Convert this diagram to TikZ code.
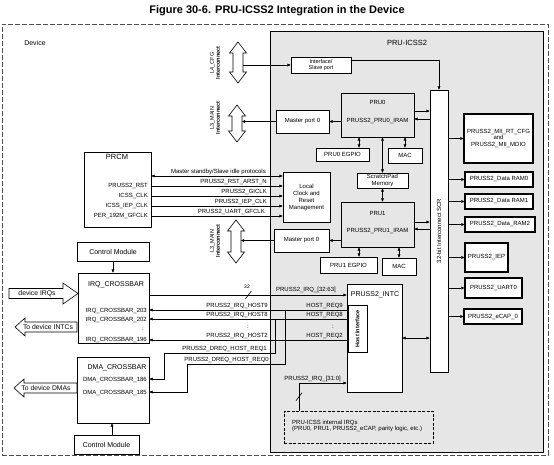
\documentclass[tikz,border=0pt]{standalone}
\usepackage{fontspec}
\setmainfont{Liberation Sans}
\usetikzlibrary{arrows.meta,calc}
\definecolor{bggray}{RGB}{230,230,230}
\newcommand\myfs[2]{\fontsize{#1}{#2}\selectfont}
\begin{document}
\begin{tikzpicture}[x=1pt,y=-1pt,font=\myfs{6}{7},
 >={Triangle[length=3.2pt,width=2.8pt]},
 box/.style={draw,line width=0.7pt,fill=white,inner sep=0pt,align=center},
 pbox/.style={box,line width=1.1pt},
 gbox/.style={box,fill=bggray},
 lbl/.style={inner sep=0pt,align=center},
 rl/.style={inner sep=0pt,anchor=base east},
 conn/.style={line width=0.6pt},
 fat/.style={draw,fill=white,line width=0.6pt,line join=miter}]
\useasboundingbox (0,0) rectangle (554,465);
\tikzset{every path/.append style={}}

% title and frames
\node[lbl,font=\bfseries\myfs{11}{12}] (title) at (277,11) {Figure 30-6. PRU-ICSS2 Integration in the Device};
\node[draw=black!70,dash pattern=on 5pt off 2pt,line width=0.7pt,minimum width=546pt,minimum height=431pt,inner sep=0pt] (device) at (275,239.5) {};
\node[lbl,font=\myfs{7}{8}] (devicelbl) at (35,43) {Device};
\node[draw,fill=bggray,line width=0.8pt,minimum width=273pt,minimum height=421pt,inner sep=0pt] (icss) at (406.5,241.5) {};
\node[lbl,font=\myfs{7.5}{9}] (icsslbl) at (407,43) {PRU-ICSS2};

% interconnect double arrows
\draw[fat] (238,42) -- ++(8.5,11) -- ++(-3.5,0) -- ++(0,19) -- ++(3.5,0) -- ++(-8.5,11) -- ++(-8.5,-11) -- ++(3.5,0) -- ++(0,-19) -- ++(-3.5,0) -- cycle;
\coordinate (l4) at (243,65);
\node[lbl,rotate=90,font=\myfs{5.5}{6}] (l4lbl) at (215,63) {L4\_CFG\\\textbf{Interconnect}};
\draw[fat] (237,105) -- ++(8.5,11) -- ++(-3.5,0) -- ++(0,15) -- ++(3.5,0) -- ++(-8.5,11) -- ++(-8.5,-11) -- ++(3.5,0) -- ++(0,-15) -- ++(-3.5,0) -- cycle;
\coordinate (l3a) at (242,121.5);
\node[lbl,rotate=90,font=\myfs{5.5}{6}] (l3albl) at (215,118) {L3\_MAIN\\\textbf{Interconnect}};
\draw[fat] (236,220) -- ++(8.5,11) -- ++(-3.5,0) -- ++(0,21) -- ++(3.5,0) -- ++(-8.5,11) -- ++(-8.5,-11) -- ++(3.5,0) -- ++(0,-21) -- ++(-3.5,0) -- cycle;
\coordinate (l3b) at (241,240.5);
\node[lbl,rotate=90,font=\myfs{5.5}{6}] (l3blbl) at (215,241) {L3\_MAIN\\\textbf{Interconnect}};

% PRU-ICSS2 internals
\node[box,minimum width=60pt,minimum height=16pt,font=\myfs{5.5}{6.5}] (iface) at (321,65) {Interface/\\Slave port};
\node[box,minimum width=18pt,minimum height=282pt] (scr) at (439,231) {};
\node[lbl,rotate=90] (scrlbl) at (439,231) {32-bit Interconnect SCR};

\node[gbox,minimum width=73pt,minimum height=44pt] (pru0) at (377.5,115) {};
\node[lbl] (pru0a) at (377.5,102) {PRU0};
\node[lbl] (pru0b) at (377.5,121) {PRUSS2\_PRU0\_IRAM};
\node[box,minimum width=53pt,minimum height=23pt] (mp0) at (302.5,121.5) {Master port 0};
\node[box,minimum width=53pt,minimum height=13pt] (egpio0) at (342.5,154.5) {PRU0 EGPIO};
\node[box,minimum width=34pt,minimum height=15pt] (mac0) at (405,155.5) {MAC};
\node[box,minimum width=51pt,minimum height=15pt,font=\myfs{6}{6.5}] (spad) at (382.5,180.5) {ScratchPad\\Memory};
\node[box,minimum width=47pt,minimum height=50pt,font=\myfs{6}{7}] (lcrm) at (306.5,197) {Local\\Clock and\\Reset\\Management};

\node[gbox,minimum width=73pt,minimum height=45pt] (pru1) at (377.5,224.5) {};
\node[lbl] (pru1a) at (377.5,213) {PRU1};
\node[lbl] (pru1b) at (377.5,231) {PRUSS2\_PRU1\_IRAM};
\node[box,minimum width=55pt,minimum height=23pt] (mp1) at (301.5,240.5) {Master port 0};
\node[box,minimum width=57pt,minimum height=16pt] (egpio1) at (348.5,265) {PRU1 EGPIO};
\node[box,minimum width=34pt,minimum height=17pt] (mac1) at (399,266.5) {MAC};

% peripherals
\node[pbox,minimum width=69pt,minimum height=49pt,font=\myfs{6}{6.5}] (mii) at (498.5,138.5) {PRUSS2\_MII\_RT\_CFG\\and\\PRUSS2\_MII\_MDIO};
\node[pbox,minimum width=68pt,minimum height=15pt] (ram0) at (499,179.5) {PRUSS2\_Data RAM0};
\node[pbox,minimum width=68pt,minimum height=15pt] (ram1) at (499,201.5) {PRUSS2\_Data RAM1};
\node[pbox,minimum width=70pt,minimum height=15pt] (ram2) at (500,224.5) {PRUSS2\_Data\_RAM2};
\node[pbox,minimum width=43pt,minimum height=29pt] (iep) at (486.5,257.5) {PRUSS2\_IEP};
\node[pbox,minimum width=57pt,minimum height=20pt] (uart) at (493.5,288) {PRUSS2\_UART0};
\node[pbox,minimum width=58pt,minimum height=15pt] (ecap) at (493,316.5) {PRUSS2\_eCAP\_0};

% INTC
\node[box,minimum width=55pt,minimum height=108pt] (intc) at (374.5,338) {};
\node[lbl,font=\myfs{7}{8}] (intclbl) at (375,295) {PRUSS2\_INTC};
\node[box,minimum width=19pt,minimum height=47pt] (hif) at (357.5,328.5) {};
\node[lbl,rotate=90,font=\bfseries\myfs{5.5}{6}] (hiflbl) at (357.5,329) {Host Interface};
\node[draw,dash pattern=on 3pt off 1.5pt,line width=0.6pt,minimum width=149pt,minimum height=32pt,inner sep=0pt] (iirq) at (358.5,427) {};
\node[lbl,anchor=west,align=left,font=\myfs{6}{6.2}] (iirqlbl) at (292,426) {PRU-ICSS internal IRQs\\(PRU0, PRU1, PRUSS2\_eCAP, parity logic, etc.)};

% PRCM
\node[box,minimum width=67pt,minimum height=75pt] (prcm) at (117.5,189.5) {};
\node[lbl,font=\myfs{7.5}{9}] (prcmlbl) at (117,157) {PRCM};
\node[rl] (prst) at (148,187.5) {PRUSS2\_RST};
\node[rl] (pclk) at (148,197.5) {ICSS\_CLK};
\node[rl] (piep) at (148,207.5) {ICSS\_IEP\_CLK};
\node[rl] (pper) at (148,217.5) {PER\_192M\_GFCLK};

% crossbars
\node[box,minimum width=72pt,minimum height=19pt,font=\myfs{7}{8}] (cm1) at (113,251.5) {Control Module};
\node[box,minimum width=71pt,minimum height=70pt] (irqx) at (113.5,308) {};
\node[lbl,font=\myfs{7}{8}] (irqxlbl) at (116,285) {IRQ\_CROSSBAR};
\node[rl] (x203) at (147,312) {IRQ\_CROSSBAR\_203};
\node[rl] (x202) at (147,321) {IRQ\_CROSSBAR\_202};
\node[lbl] (xdots) at (143,329) {:};
\node[rl] (x196) at (147,341.5) {IRQ\_CROSSBAR\_196};
\node[box,minimum width=72pt,minimum height=66pt] (dmax) at (113,390) {};
\node[lbl,font=\myfs{7}{8}] (dmaxlbl) at (117,368) {DMA\_CROSSBAR};
\node[rl] (x186) at (147,381) {DMA\_CROSSBAR\_186};
\node[rl] (x185) at (147,394) {DMA\_CROSSBAR\_185};
\node[box,minimum width=65pt,minimum height=19pt,font=\myfs{7}{8}] (cm2) at (106.5,444.5) {Control Module};

% fat arrows outside
\draw[fat] (9,288.5) -- (63,288.5) -- (63,283) -- (78,293.5) -- (63,304) -- (63,298.5) -- (9,298.5) -- cycle;
\node[lbl,font=\myfs{6.8}{8}] (devirq) at (37,293.5) {device IRQs};
\draw[fat] (77,322) -- (25,322) -- (25,318) -- (15,327) -- (25,336) -- (25,332) -- (77,332) -- cycle;
\node[lbl,font=\myfs{6.8}{8}] (devintc) at (48,327) {To device INTCs};
\draw[fat] (77,383) -- (24,383) -- (24,379) -- (14,388) -- (24,397) -- (24,393) -- (77,393) -- cycle;
\node[lbl,font=\myfs{6.8}{8}] (devdma) at (46,388) {To device DMAs};

% ---------- connectors ----------
\begin{scope}[conn]
\draw[->] (l4) -- (iface.west);
\coordinate (ifo) at ([yshift=5pt]iface.east);
\draw[->] (ifo) -| (scr.north);

\draw[->] (pru0.west |- mp0.east) -- (mp0.east);
\draw[->] (mp0.west) -- (l3a);
\coordinate (p0o) at ([yshift=4pt]pru0.east);
\coordinate (p0i) at ([yshift=-4pt]pru0.east);
\draw[->] (p0o) -- (p0o -| scr.west);
\draw[->] (p0i -| scr.west) -- (p0i);
\coordinate (e0) at ([xshift=16.5pt]egpio0.north);
\draw[<->] (e0) -- (e0 |- pru0.south);
\draw[<->] (mac0.north) -- (mac0.north |- pru0.south);
\draw[<->] (spad.north) -- (spad.north |- pru0.south);
\draw[<->] (spad.south) -- (spad.south |- pru1.north);

\draw[->] (pru1.west |- mp1.east) -- (mp1.east);
\draw[->] (mp1.west) -- (l3b);
\coordinate (p1o) at ([yshift=2.5pt]pru1.east);
\coordinate (p1i) at ([yshift=-4.5pt]pru1.east);
\draw[->] (p1o) -- (p1o -| scr.west);
\draw[->] (p1i -| scr.west) -- (p1i);
\coordinate (e1) at ([xshift=10.5pt]egpio1.north);
\draw[<->] (e1) -- (e1 |- pru1.south);
\draw[<->] (mac1.north) -- (mac1.north |- pru1.south);

\foreach \p in {mii,ram0,ram1,ram2,iep,uart,ecap}
  \draw[->] (\p.west -| scr.east) -- (\p.west);
\draw[<->] (intc.east) -- (intc.east -| scr.west);

% PRCM signals
\coordinate (s0) at ([yshift=13.5pt]prcm.east);
\coordinate (s1) at ([yshift=3.5pt]prcm.east);
\coordinate (s2) at ([yshift=-6.5pt]prcm.east);
\coordinate (s3) at ([yshift=-16.5pt]prcm.east);
\coordinate (s4) at ([yshift=-26.5pt]prcm.east);
\draw[<->] (s0) -- (s0 -| lcrm.west);
\draw[->] (s1) -- (s1 -| lcrm.west);
\draw[->] (s2) -- (s2 -| lcrm.west);
\draw[->] (s3) -- (s3 -| lcrm.west);
\draw[->] (s4) -- (s4 -| lcrm.west);

% crossbars
\draw[->] (cm1.south) -- (cm1.south |- irqx.north);
\coordinate (c2) at ([xshift=5.5pt]cm2.north);
\draw[->] (c2) -- (c2 |- dmax.south);

\coordinate (i32) at ([yshift=13pt]irqx.east);
\draw[->] (i32) -- (i32 -| intc.west);
\draw ([xshift=96pt,yshift=-4pt]i32) -- ([xshift=102pt,yshift=4pt]i32);

\coordinate (h9) at ([yshift=18.5pt]hif.west);
\coordinate (h8) at ([yshift=9.5pt]hif.west);
\coordinate (h2) at ([yshift=-11.5pt]hif.west);
\draw[->] (h9) -- (h9 -| irqx.east);
\draw[->] (h8) -- (h8 -| irqx.east);
\draw[->] (h2) -- (h2 -| irqx.east);

\coordinate (d186) at ([yshift=11pt]dmax.east);
\coordinate (d185) at ([yshift=-2pt]dmax.east);
\coordinate (q1) at ([xshift=-72pt]h8);
\coordinate (q0) at ([xshift=-62pt]h9);
\draw[->] (q1) -- ++(0,34) -- ++(-111,0) |- (d186);
\draw[->] (q0) -- ++(0,54) -- ++(-98,0) |- (d185);

\coordinate (i31) at ([xshift=-59.5pt]iirq.north);
\coordinate (i31t) at ([yshift=-45pt]intc.west);
\draw[->] (i31) |- (i31t);
\draw ([xshift=-3pt,yshift=10pt]i31) -- ([xshift=3pt,yshift=18pt]i31);
\end{scope}

% connector labels
\node[rl] (lms) at (266,173.5) {Master standby/Slave idle protocols};
\node[rl] (lrst) at (267,183.5) {PRUSS2\_RST\_ARST\_N};
\node[rl] (lgic) at (267,193.5) {PRUSS2\_GICLK};
\node[rl] (liep) at (267,203.5) {PRUSS2\_IEP\_CLK};
\node[rl] (luart) at (265,213.5) {PRUSS2\_UART\_GFCLK};

\node[lbl,font=\myfs{5}{6}] (l32) at (247,287) {32};
\node[rl] (lirq32) at (336,291.5) {PRUSS2\_IRQ\_[32:63]};
\node[rl] (lhr9) at (343,307.5) {HOST\_REQ9};
\node[rl] (lhr8) at (343,316.5) {HOST\_REQ8};
\node[lbl] (lhrd) at (333,327) {:};
\node[rl] (lhr2) at (343,337.5) {HOST\_REQ2};
\node[rl] (lh9) at (268,307.5) {PRUSS2\_IRQ\_HOST9};
\node[rl] (lh8) at (268,316.5) {PRUSS2\_IRQ\_HOST8};
\node[lbl] (lhd) at (248,327) {:};
\node[rl] (lh2) at (268,337.5) {PRUSS2\_IRQ\_HOST2};
\node[rl] (ldq1) at (267,350.5) {PRUSS2\_DREQ\_HOST\_REQ1};
\node[rl] (ldq0) at (269,361.5) {PRUSS2\_DREQ\_HOST\_REQ0};
\node[rl] (lirq31) at (341,380.5) {PRUSS2\_IRQ\_[31:0]};
\end{tikzpicture}
\end{document}
